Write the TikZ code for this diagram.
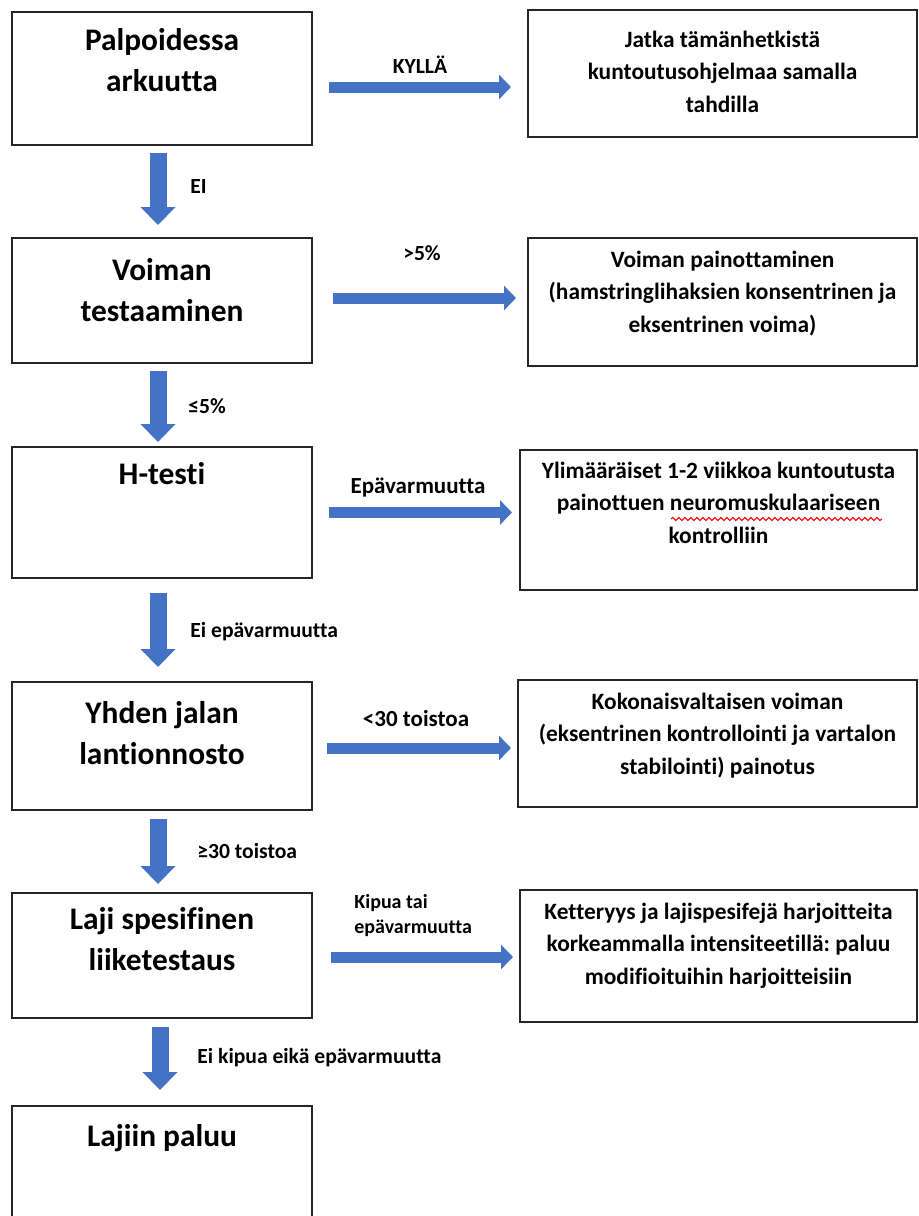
\documentclass[tikz,border=0pt]{standalone}
\usepackage{fontspec}
\setmainfont{Carlito}[Ligatures=NoCommon]
\usepackage{xcolor}
\usetikzlibrary{arrows.meta,calc,positioning,decorations.pathmorphing}
\definecolor{arrblue}{HTML}{4472C4}
\frenchspacing
\tikzset{
  lbox/.style={rectangle, draw=black!85, line width=1pt, minimum width=150pt, inner sep=0pt},
  rbox/.style={rectangle, draw=black!85, line width=1pt, inner sep=0pt},
  ltxt/.style={anchor=base, text width=160pt, align=flush center, inner sep=0pt,
    font=\fontsize{15.7}{20.5}\selectfont\bfseries},
  rtxt/.style={anchor=base, text width=215pt, align=flush center, inner sep=0pt,
    font=\fontsize{11.7}{16.4}\selectfont\bfseries},
  lbl/.style={inner sep=0pt, font=\fontsize{10.8}{12.5}\selectfont\bfseries},
  biglbl/.style={lbl, font=\fontsize{11.5}{13.5}\selectfont\bfseries},
  varr/.style={draw=arrblue, line width=8.5pt, -{Triangle[width=17pt,length=9pt]}},
  harr/.style={draw=arrblue, line width=5.5pt, -{Triangle[width=12pt,length=6pt]}},
  every picture/.style={line cap=butt, line join=miter}
}

\begin{document}
\begin{tikzpicture}[x=0.5pt,y=-0.5pt]
  \useasboundingbox (0,0) rectangle (918,1216);
  \fill[white] (0,0) rectangle (918,1216);
  \clip (0,0) rectangle (918,1216);

  % vasen sarake
  \node[lbox, minimum height=66.5pt] (palp) at (162,78.5) {};
  \node[lbox, minimum height=62.5pt] (voima) at (162,300.5) {};
  \node[lbox, minimum height=65.5pt] (htest) at (162,512.5) {};
  \node[lbox, minimum height=64pt] (yhden) at (162,746) {};
  \node[lbox, minimum height=62.5pt] (laji) at (162,955.5) {};
  \node[lbox, minimum height=72pt] (paluu) at (162,1178) {};

  \node[ltxt] (palpt) at ([yshift=-19.5pt]palp.north) {Palpoidessa\\arkuutta};
  \node[ltxt] (voimat) at ([yshift=-21.5pt]voima.north) {Voiman\\testaaminen};
  \node[ltxt] (htestt) at ([yshift=-19pt]htest.north) {H-testi};
  \node[ltxt] (yhdent) at ([yshift=-21pt]yhden.north) {Yhden jalan\\lantionnosto};
  \node[ltxt] (lajit) at ([yshift=-18.5pt]laji.north) {Laji spesifinen\\liiketestaus};
  \node[ltxt] (paluut) at ([yshift=-20.5pt]paluu.north) {Lajiin paluu};

  % oikea sarake
  \node[rbox, minimum width=194.5pt, minimum height=63.5pt] (jatka) at (722.5,73.5) {};
  \node[rbox, minimum width=194.5pt, minimum height=64pt] (painot) at (722.5,302) {};
  \node[rbox, minimum width=198.5pt, minimum height=70pt] (ylim) at (718.5,520) {};
  \node[rbox, minimum width=199.5pt, minimum height=63.5pt] (kokon) at (717.5,743.5) {};
  \node[rbox, minimum width=198.5pt, minimum height=66pt] (ketter) at (718.5,956) {};

  \node[rtxt] (jatkat) at ([yshift=-19pt]jatka.north) {Jatka tämänhetkistä\\kuntoutusohjelmaa samalla\\tahdilla};
  \node[rtxt] (painott) at ([yshift=-15pt]painot.north) {Voiman painottaminen\\(hamstringlihaksien konsentrinen ja\\eksentrinen voima)};
  \node[rtxt] (ylimt) at ([yshift=-14.5pt]ylim.north) {Ylimääräiset 1-2 viikkoa kuntoutusta\\painottuen neuromuskulaariseen\\kontrolliin};
  \node[rtxt] (kokont) at ([yshift=-15pt]kokon.north) {Kokonaisvaltaisen voiman\\(eksentrinen kontrollointi ja vartalon\\stabilointi) painotus};
  \node[rtxt] (kettert) at ([yshift=-15pt]ketter.north) {Ketteryys ja lajispesifejä harjoitteita\\korkeammalla intensiteetillä: paluu\\modifioituihin harjoitteisiin};

  % oikoluvun punainen aaltoviiva
  \draw[red, line width=0.5pt, decorate, decoration={snake, amplitude=0.8pt, segment length=3pt}]
    (671,519) -- (882,519);

  % nuolet alas
  \draw[varr, shorten <=3.5pt, shorten >=6pt] ([xshift=-2pt]palp.south) -- ([xshift=-2pt]voima.north);
  \draw[varr, shorten <=3.5pt, shorten >=2pt] ([xshift=-2pt]voima.south) -- ([xshift=-2pt]htest.north);
  \draw[varr, shorten <=7pt, shorten >=7pt] ([xshift=-2pt]htest.south) -- ([xshift=-2pt]yhden.north);
  \draw[varr, shorten <=4pt, shorten >=4pt] ([xshift=-2pt]yhden.south) -- ([xshift=-2pt]laji.north);
  \draw[varr, shorten <=4pt, shorten >=7.5pt] ([xshift=-1pt]laji.south) -- ([xshift=-1pt]paluu.north);

  % nuolet oikealle
  \draw[harr, shorten <=8pt, shorten >=8pt] ([yshift=-4.25pt]palp.east) -- ([yshift=-4.25pt]palp.east -| jatka.west);
  \draw[harr, shorten <=10pt, shorten >=5.5pt] ([yshift=1.25pt]voima.east) -- ([yshift=1.25pt]voima.east -| painot.west);
  \draw[harr, shorten <=8pt, shorten >=3.5pt] (htest.east) -- (htest.east -| ylim.west);
  \draw[harr, shorten <=7pt, shorten >=3pt] ([yshift=-1pt]yhden.east) -- ([yshift=-1pt]yhden.east -| kokon.west);
  \draw[harr, shorten <=9pt, shorten >=3pt] ([yshift=-0.75pt]laji.east) -- ([yshift=-0.75pt]laji.east -| ketter.west);

  % nuolten tekstit
  \node[lbl] (kylla) at (420,65) {KYLLÄ};
  \node[lbl, anchor=west] (ei) at (190,186) {EI};
  \node[lbl] (yli5) at (422,253) {>5\%};
  \node[lbl, anchor=west] (alle5) at (188,406) {≤5\%};
  \node[biglbl] (epav) at (418,488) {Epävarmuutta};
  \node[lbl, anchor=west] (eiepav) at (190,632) {Ei epävarmuutta};
  \node[biglbl] (alle30) at (416,719) {<30 toistoa};
  \node[lbl, anchor=west] (yli30) at (197,851) {≥30 toistoa};
  \begin{scope}
    \clip (340,880) rectangle (500,936);
    \node[lbl, anchor=west, align=left, font=\fontsize{10}{12.5}\selectfont\bfseries] (kipua) at (354,916) {Kipua tai\\epävarmuutta};
  \end{scope}
  \node[lbl, anchor=west] (eikipua) at (197,1058) {Ei kipua eikä epävarmuutta};
\end{tikzpicture}
\end{document}
